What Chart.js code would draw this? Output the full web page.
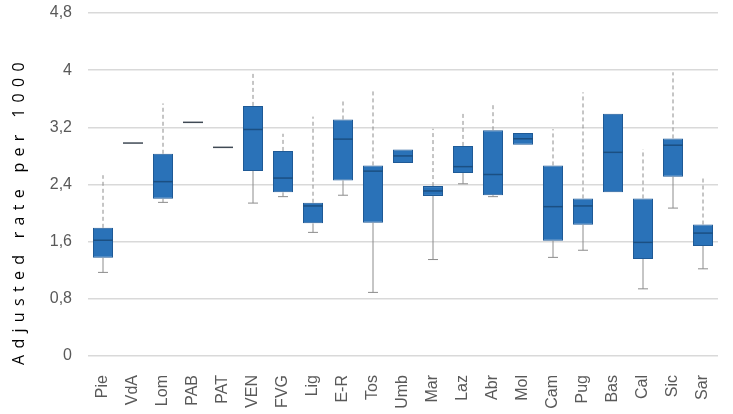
<!DOCTYPE html>
<html>
<head>
<meta charset="utf-8">
<script src="https://cdn.jsdelivr.net/npm/chart.js@4.4.1/dist/chart.umd.min.js"></script>
<style>
  html,body{margin:0;padding:0;background:#fff;}
  #wrap{width:733px;height:414px;}
</style>
</head>
<body>
<div id="wrap"><canvas id="chart" width="733" height="414"></canvas></div>
<script>
// regions
const regions = ["Pie","VdA","Lom","PAB","PAT","VEN","FVG","Lig","E-R","Tos","Umb","Mar","Laz","Abr","Mol","Cam","Pug","Bas","Cal","Sic","Sar"];

// box plot stats
const minVals = [1.17,2.98,2.15,3.27,2.92,2.14,2.23,1.73,2.25,0.89,2.70,1.35,2.41,2.23,2.955,1.38,1.48,2.29,0.94,2.07,1.22];
const q1Vals  = [1.375,2.98,2.20,3.27,2.92,2.59,2.29,1.856,2.457,1.865,2.70,2.24,2.56,2.25,2.955,1.613,1.836,2.29,1.357,2.51,1.54];
const medVals = [1.62,2.98,2.44,3.27,2.92,3.17,2.49,2.10,3.035,2.587,2.80,2.31,2.65,2.54,3.04,2.09,2.10,2.85,1.59,2.95,1.72];
const q3Vals  = [1.794,2.98,2.83,3.27,2.92,3.50,2.87,2.145,3.31,2.667,2.89,2.378,2.94,3.16,3.12,2.667,2.205,3.39,2.205,3.045,1.84];
const maxVals = [2.53,2.98,3.534,3.27,2.92,3.95,3.11,3.35,3.57,3.72,2.89,3.18,3.40,3.51,3.12,3.175,3.69,3.39,2.895,3.97,2.49];

const yTicks = [0,0.8,1.6,2.4,3.2,4,4.8];

const $ = (id) => document.getElementById(id);

// whiskers + median drawn on top of the bars, positioned with the chart scales
const boxExtras = {
  id: "boxExtras",
  afterDatasetsDraw(chart){
    const ctx = chart.ctx;
    const x = chart.scales.x, y = chart.scales.y;
    const meta = chart.getDatasetMeta(0);
    ctx.save();
    regions.forEach((r, i) => {
      const cx = x.getPixelForValue(i);
      const bw = meta.data[i].width;
      const yMin = y.getPixelForValue(minVals[i]);
      const yQ1 = y.getPixelForValue(q1Vals[i]);
      const yQ3 = y.getPixelForValue(q3Vals[i]);
      const yMax = y.getPixelForValue(maxVals[i]);
      const yMed = y.getPixelForValue(medVals[i]);

      ctx.strokeStyle = "#8c8c8c";
      ctx.lineWidth = 1;
      // upper whisker, dashed
      if(maxVals[i] > q3Vals[i]){
        ctx.setLineDash([4,3]);
        ctx.beginPath();
        ctx.moveTo(cx, yQ3);
        ctx.lineTo(cx, yMax);
        ctx.stroke();
      }
      // lower whisker, solid with cap
      if(minVals[i] < q1Vals[i]){
        ctx.setLineDash([]);
        ctx.beginPath();
        ctx.moveTo(cx, yQ1);
        ctx.lineTo(cx, yMin);
        ctx.moveTo(cx - 5, yMin);
        ctx.lineTo(cx + 5, yMin);
        ctx.stroke();
      }
      // median
      ctx.setLineDash([]);
      ctx.strokeStyle = (q1Vals[i] === q3Vals[i]) ? "#404a55" : "#1b4f82";
      ctx.lineWidth = 1.5;
      ctx.beginPath();
      ctx.moveTo(cx - bw/2, yMed);
      ctx.lineTo(cx + bw/2, yMed);
      ctx.stroke();
    });
    ctx.restore();
  }
};

// spaced-out y title like the original
const spacedTitle = {
  id: "spacedTitle",
  beforeDraw(chart){
    const s = chart.scales.y;
    if(s._spaced) return;
    const orig = s.drawTitle;
    s.drawTitle = function(){
      const ctx = this.ctx;
      ctx.save();
      ctx.letterSpacing = "6.3px";
      ctx.translate(0, 9);
      orig.apply(this, arguments);
      ctx.restore();
    };
    s._spaced = true;
  }
};

window.addEventListener("DOMContentLoaded", () => {
  new Chart($("chart"), {
    type: "bar",
    data: {
      labels: regions,
      datasets: [{
        data: regions.map((r, i) => [q1Vals[i], q3Vals[i]]),
        backgroundColor: "#2a72b8",
        borderColor: "#1f5a96",
        borderWidth: 1,
        borderSkipped: false,
        categoryPercentage: 1,
        barPercentage: 0.667
      }]
    },
    options: {
      responsive: false,
      animation: false,
      layout: {padding: {top: 13, right: 15, left: 0, bottom: 0}},
      plugins: {legend: {display: false}, tooltip: {enabled: false}},
      scales: {
        x: {
          grid: {display: false},
          border: {display: false},
          ticks: {
            color: "#595959",
            font: {family: "Liberation Sans", size: 16},
            minRotation: 90, maxRotation: 90,
            padding: 11
          },
          afterFit: (s) => { s.height = 58; s.paddingLeft = 0; s.paddingRight = 0; }
        },
        y: {
          min: 0, max: 4.8,
          afterBuildTicks: (s) => { s.ticks = yTicks.map(v => ({value: v})); },
          grid: {color: "#d9d9d9", lineWidth: 1.5, drawTicks: false},
          border: {display: false},
          ticks: {
            color: "#595959",
            font: {family: "Liberation Sans", size: 16},
            padding: 16,
            callback: (v) => String(+v.toFixed(1)).replace(".", ",")
          },
          title: {
            display: true,
            text: "Adjusted rate per 1000",
            color: "#000",
            font: {family: "Open Sans", size: 16},
            align: "start",
            padding: {top: 10, bottom: 0}
          },
          afterFit: (s) => { s.width = 88; s.paddingTop = 0; s.paddingBottom = 0; }
        }
      }
    },
    plugins: [boxExtras, spacedTitle]
  });
});
</script>
</body>
</html>
